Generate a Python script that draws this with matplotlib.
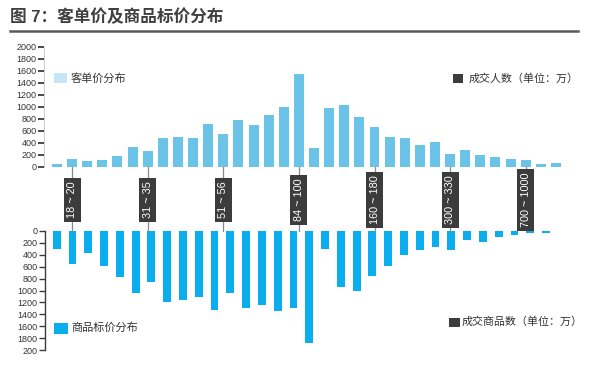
import matplotlib
matplotlib.use("Agg")
import matplotlib.pyplot as plt
from matplotlib.patches import Rectangle
from matplotlib.lines import Line2D
from matplotlib.transforms import blended_transform_factory

plt.rcParams['font.family'] = ['Liberation Sans', 'Noto Sans CJK SC', 'DejaVu Sans']

# ---------------- data ----------------
title = "图 7：客单价及商品标价分布"
buyers = [50, 130, 90, 110, 180, 330, 260, 480, 490, 480, 720, 540, 780, 690, 870, 1000,
          1540, 310, 980, 1030, 830, 670, 500, 480, 360, 420, 210, 280, 200, 160, 130, 110, 45, 60]
goods = [300, 550, 370, 580, 780, 1040, 850, 1200, 1160, 1110, 1320, 1040, 1290, 1240, 1350, 1290,
         1880, 300, 940, 1000, 750, 580, 400, 320, 270, 320, 150, 180, 100, 60, 35, 30]
range_labels = ["18 ~ 20", "31 ~ 35", "51 ~ 56", "84 ~ 100", "160 ~ 180", "300 ~ 330", "700 ~ 1000"]
range_idx = [1, 6, 11, 16, 21, 26, 31]
top_ticks = [0, 200, 400, 600, 800, 1000, 1200, 1400, 1600, 1800, 2000]
top_ticklabels = ["0", "200", "400", "600", "800", "1000", "1200", "1400", "1600", "1800", "2000"]
bot_ticks = [0, 200, 400, 600, 800, 1000, 1200, 1400, 1600, 1800, 2000]
bot_ticklabels = ["0", "200", "400", "600", "800", "1000", "1200", "1400", "1600", "1800", "200"]
legend_top_left = "客单价分布"
legend_top_right = "成交人数（单位：万）"
legend_bot_left = "商品标价分布"
legend_bot_right = "成交商品数（单位：万）"

# ---------------- style ----------------
W, H = 600, 366
c_top = "#6cc3e8"
c_top_leg = "#c4e6f6"
c_bot = "#0aaeee"
c_dark = "#3c3c3c"
c_text = "#333333"

fig = plt.figure(figsize=(W / 100, H / 100), dpi=100)

def fx(px):
    return px / W

def fy(py):
    return 1 - py / H

# top axes
ax1 = fig.add_axes([fx(44), fy(166.7), fx(565) - fx(44), fy(46.7) - fy(166.7)])
ax1.bar(range(len(buyers)), buyers, width=0.66, color=c_top, zorder=2)
ax1.set_xlim(-0.86, 33.6)
ax1.set_ylim(0, 2000)
ax1.set_yticks(top_ticks)
ax1.set_yticklabels(top_ticklabels)
ax1.set_xticks([])
for s in ["top", "right", "bottom"]:
    ax1.spines[s].set_visible(False)
ax1.spines["left"].set_color("#c8c8c8")
ax1.spines["left"].set_linewidth(0.6)
ax1.tick_params(axis="y", length=4, width=1.3, color=c_dark, labelsize=6.5,
                labelcolor=c_text, pad=1.5)
ax1.patch.set_alpha(0)

# bottom axes
ax2 = fig.add_axes([fx(45), fy(350), fx(565) - fx(45), fy(231) - fy(350)])
ax2.bar(range(len(goods)), goods, width=0.5, color=c_bot, zorder=2)
ax2.set_xlim(-0.74, 32.2)
ax2.set_ylim(2000, 0)
ax2.set_yticks(bot_ticks)
ax2.set_yticklabels(bot_ticklabels)
ax2.set_xticks([])
for s in ["top", "right", "bottom"]:
    ax2.spines[s].set_visible(False)
ax2.spines["left"].set_color(c_dark)
ax2.spines["left"].set_linewidth(1.0)
ax2.tick_params(axis="y", length=4, width=1.0, color=c_dark, labelsize=6.5,
                labelcolor=c_text, pad=1.5)
ax2.patch.set_alpha(0)

# range label boxes with leader lines
tr = blended_transform_factory(ax1.transData, fig.transFigure)
for lab, i in zip(range_labels, range_idx):
    fig.add_artist(Line2D([i, i], [fy(166.7), fy(231)], transform=tr,
                          color="#8a8a8a", lw=0.9, zorder=1))
    fig.text(i, fy(200), lab, transform=tr, rotation=90, ha="center", va="center",
             fontsize=7.8, color="white", zorder=5,
             bbox=dict(boxstyle="square,pad=0.32", fc=c_dark, ec="none"))

# legends
def legend_item(x0, y0, w, h, color, text, tx, fontsize):
    fig.add_artist(Rectangle((fx(x0), fy(y0 + h)), fx(w), fy(0) - fy(h),
                             transform=fig.transFigure, color=color, lw=0))
    fig.text(fx(tx), fy(y0 + h / 2), text, ha="left", va="center",
             fontsize=fontsize, color=c_text)

legend_item(54, 73, 13, 10, c_top_leg, legend_top_left, 71, 8)
legend_item(453, 74, 10, 9, c_dark, legend_top_right, 469, 7.9)
legend_item(54, 322.5, 14, 11, c_bot, legend_bot_left, 71, 8)
legend_item(449, 317.5, 11, 9, c_dark, legend_bot_right, 462, 7.9)

# title and rule
fig.text(fx(10), fy(17), title, ha="left", va="center", fontsize=12,
         fontweight="bold", color="#404040")
fig.add_artist(Line2D([fx(10), fx(578)], [fy(31), fy(31)], transform=fig.transFigure,
                      color="#5a5a5a", lw=1.8))

fig.savefig("out.png", dpi=100)
